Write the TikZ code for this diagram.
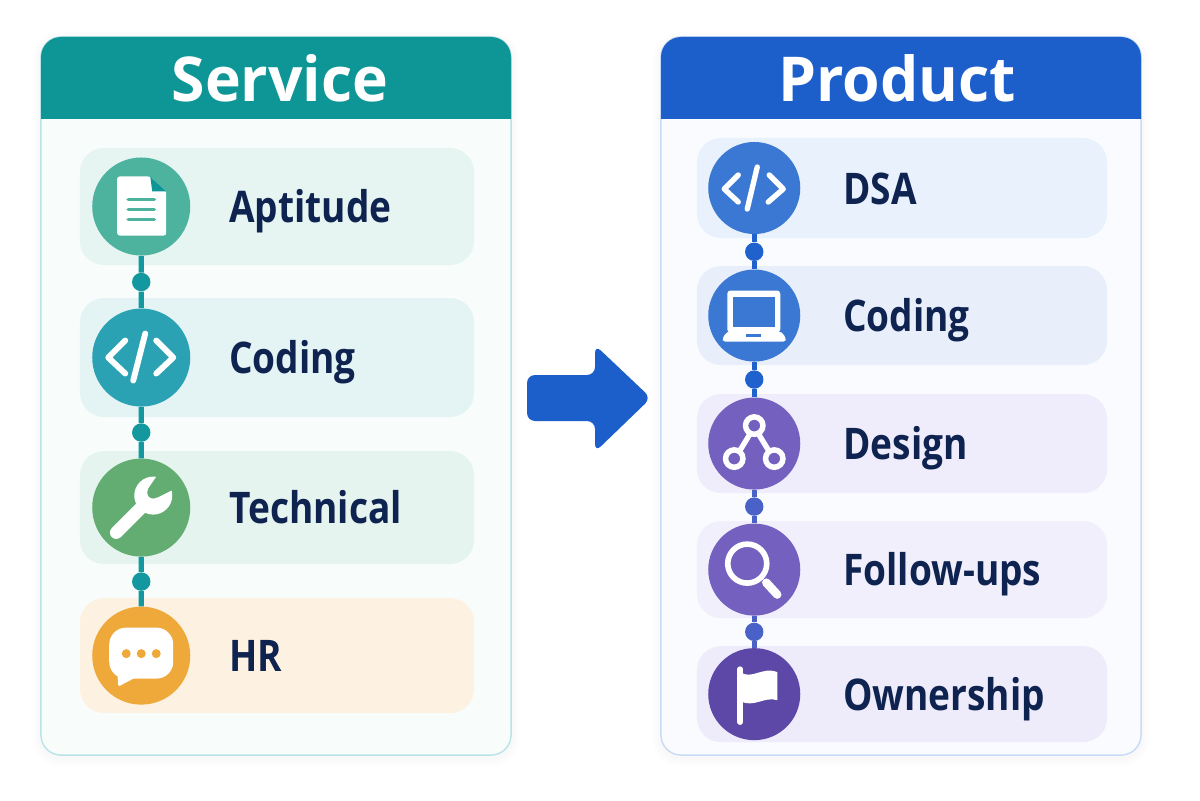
\documentclass[tikz,border=0pt]{standalone}
\usepackage{fontspec}
\setmainfont{Open Sans}
\newfontfamily\labelfont[FakeStretch=0.85]{Open Sans}
\newfontfamily\titlefont[FakeStretch=0.98]{Open Sans}
\usetikzlibrary{arrows.meta,positioning,calc}

\definecolor{inkNavy}{HTML}{0F2350}
\definecolor{svcTeal}{HTML}{0E9596}
\definecolor{svcLine}{HTML}{12989E}
\definecolor{svcEdge}{HTML}{B9E3E6}
\definecolor{svcBack}{HTML}{F8FDFC}
\definecolor{prodBlue}{HTML}{1C5FCB}
\definecolor{prodLine}{HTML}{1F62CE}
\definecolor{prodViolet}{HTML}{4A62C8}
\definecolor{prodEdge}{HTML}{C8DBF6}
\definecolor{prodBack}{HTML}{F9FBFF}
\definecolor{cGreen}{HTML}{4DB39E}
\definecolor{cCyan}{HTML}{2BA2B3}
\definecolor{cLeaf}{HTML}{64AD72}
\definecolor{cAmber}{HTML}{EFA93A}
\definecolor{cBlue}{HTML}{3B78D3}
\definecolor{cPurple}{HTML}{7460BF}
\definecolor{cDeep}{HTML}{5D47A7}
\definecolor{rowGreen}{HTML}{E6F5F2}
\definecolor{rowCyan}{HTML}{E4F4F4}
\definecolor{rowLeaf}{HTML}{E5F4EE}
\definecolor{rowAmber}{HTML}{FDF2E2}
\definecolor{rowBlue}{HTML}{E9F1FD}
\definecolor{rowBlueB}{HTML}{E8EFFB}
\definecolor{rowLilac}{HTML}{EFEDFB}
\definecolor{rowLilacB}{HTML}{F1EFFC}
\definecolor{rowLilacC}{HTML}{EEEBFB}

\begin{document}
\begin{tikzpicture}[
    x=0.025cm, y=-0.025cm,
    node distance=0.85cm,
    panel/.style={rectangle, draw, line width=1pt, rounded corners=0.5cm, minimum width=11.75cm, minimum height=17.95cm, inner sep=0pt},
    rowbox/.style={rectangle, rounded corners=0.6cm, inner sep=0pt, outer sep=0pt},
    svcrow/.style={rowbox, minimum width=9.85cm},
    prodrow/.style={rowbox, minimum width=10.25cm},
    svcicon/.style={circle, minimum size=2.45cm, inner sep=0pt},
    prodicon/.style={circle, minimum size=2.3cm, inner sep=0pt},
    title/.style={text=white, font=\titlefont\fontsize{44}{50}\selectfont\bfseries},
    label/.style={text=inkNavy, font=\labelfont\fontsize{31}{38}\selectfont\bfseries, inner sep=0pt, text height=0.8cm, text depth=0pt},
    dot/.style={circle, minimum size=0.46cm, inner sep=0pt},
    link/.style={line width=3.6pt},
    glyph/.style={draw=white, line width=4.2pt, line cap=round, line join=round}
]
\useasboundingbox (0,0) rectangle (1200,800);

% Panels
\foreach \w in {12,8,4} {
  \draw[black, opacity=0.008, line width=\w pt, rounded corners=0.5cm] (41,40) rectangle (511,758);
  \draw[black, opacity=0.008, line width=\w pt, rounded corners=0.5cm] (661,40) rectangle (1141,758);
}
\node[panel, draw=svcEdge, fill=svcBack] (svcPanel) at (276,396) {};
\node[panel, draw=prodEdge, fill=prodBack, minimum width=12cm] (prodPanel) at (901,396) {};
\fill[svcTeal] (41,119) [rounded corners=0.5cm] -- (41,37) -- (511,37) [sharp corners] -- (511,119) -- cycle;
\fill[prodBlue] (661,119) [rounded corners=0.5cm] -- (661,37) -- (1141,37) [sharp corners] -- (1141,119) -- cycle;
\node[title] (svcTitle) at (280,78) {Service};
\node[title] (prodTitle) at (897,78) {Product};

% Service rows
\node[svcrow, fill=rowGreen, minimum height=2.925cm] (svcRowA) at (277,206.5) {};
\node[svcrow, fill=rowCyan, minimum height=2.975cm, below=0.825cm of svcRowA] (svcRowB) {};
\node[svcrow, fill=rowLeaf, minimum height=2.825cm, below=of svcRowB] (svcRowC) {};
\node[svcrow, fill=rowAmber, minimum height=2.875cm, below=of svcRowC] (svcRowD) {};

\node[svcicon, fill=cGreen, right=0.3cm of svcRowA.west] (svcDoc) {};
\node[svcicon, fill=cCyan, right=0.3cm of svcRowB.west] (svcCode) {};
\node[svcicon, fill=cLeaf, right=0.3cm of svcRowC.west] (svcTool) {};
\node[svcicon, fill=cAmber, right=0.3cm of svcRowD.west] (svcChat) {};

\node[label, right=3.725cm of svcRowA.west] (svcAptitude) {Aptitude};
\node[label, right=3.725cm of svcRowB.west] (svcCoding) {Coding};
\node[label, right=3.725cm of svcRowC.west] (svcTechnical) {Technical};
\node[label, right=3.725cm of svcRowD.west] (svcHr) {HR};

% Product rows
\node[prodrow, fill=rowBlue, minimum height=2.5cm] (prodRowA) at (902,188) {};
\node[prodrow, fill=rowBlueB, minimum height=2.475cm, below=0.7cm of prodRowA] (prodRowB) {};
\node[prodrow, fill=rowLilac, minimum height=2.475cm, below=0.725cm of prodRowB] (prodRowC) {};
\node[prodrow, fill=rowLilacB, minimum height=2.425cm, below=0.7cm of prodRowC] (prodRowD) {};
\node[prodrow, fill=rowLilacC, minimum height=2.4cm, below=0.7cm of prodRowD] (prodRowE) {};

\node[prodicon, fill=cBlue, right=0.275cm of prodRowA.west] (prodCode) {};
\node[prodicon, fill=cBlue, right=0.275cm of prodRowB.west] (prodLaptop) {};
\node[prodicon, fill=cPurple, right=0.275cm of prodRowC.west] (prodGraph) {};
\node[prodicon, fill=cPurple, right=0.275cm of prodRowD.west] (prodLens) {};
\node[prodicon, fill=cDeep, right=0.275cm of prodRowE.west] (prodFlag) {};

\node[label, right=3.65cm of prodRowA.west] (prodDsa) {DSA};
\node[label, right=3.65cm of prodRowB.west] (prodCoding) {Coding};
\node[label, right=3.65cm of prodRowC.west] (prodDesign) {Design};
\node[label, right=3.65cm of prodRowD.west] (prodFollow) {Follow-ups};
\node[label, right=3.65cm of prodRowE.west] (prodOwner) {Ownership};

% Dots
\node[dot, fill=svcLine] (svcDotA) at ($(svcDoc.south)!0.5!(svcCode.north)$) {};
\node[dot, fill=svcLine] (svcDotB) at ($(svcCode.south)!0.5!(svcTool.north)$) {};
\node[dot, fill=svcLine] (svcDotC) at ($(svcTool.south)!0.5!(svcChat.north)$) {};
\node[dot, fill=prodLine] (prodDotA) at ($(prodCode.south)!0.5!(prodLaptop.north)$) {};
\node[dot, fill=prodLine] (prodDotB) at ($(prodLaptop.south)!0.5!(prodGraph.north)$) {};
\node[dot, fill=prodViolet] (prodDotC) at ($(prodGraph.south)!0.5!(prodLens.north)$) {};
\node[dot, fill=prodViolet] (prodDotD) at ($(prodLens.south)!0.5!(prodFlag.north)$) {};

% Links
\draw[link, svcLine] (svcDoc) -- (svcDotA);
\draw[link, svcLine] (svcDotA) -- (svcCode);
\draw[link, svcLine] (svcCode) -- (svcDotB);
\draw[link, svcLine] (svcDotB) -- (svcTool);
\draw[link, svcLine] (svcTool) -- (svcDotC);
\draw[link, svcLine] (svcDotC) -- (svcChat);
\draw[link, prodLine] (prodCode) -- (prodDotA);
\draw[link, prodLine] (prodDotA) -- (prodLaptop);
\draw[link, prodLine] (prodLaptop) -- (prodDotB);
\draw[link, prodLine] (prodDotB) -- (prodGraph);
\draw[link, prodViolet] (prodGraph) -- (prodDotC);
\draw[link, prodViolet] (prodDotC) -- (prodLens);
\draw[link, prodViolet] (prodLens) -- (prodDotD);
\draw[link, prodViolet] (prodDotD) -- (prodFlag);

% Big arrow
\fill[prodBlue, rounded corners=0.2cm] (527,375) -- (595,375) -- (595,345) -- (651,398) -- (595,452) -- (595,421) -- (527,421) -- cycle;

% Icons
\begin{scope}[shift={(svcDoc.center)}]
  \fill[white, rounded corners=0.06cm] (-24,-30) -- (9,-30) -- (25,-15) -- (25,29) -- (-24,29) -- cycle;
  \fill[svcTeal] (9,-30) -- (25,-15) -- (11,-15) -- cycle;
  \draw[cGreen, line width=2.6pt, line cap=round] (-13,-7) -- (13,-7) (-13,3) -- (13,3) (-13,13) -- (13,13);
\end{scope}
\begin{scope}[shift={(svcCode.center)}]
  \draw[glyph] (-16,-17) -- (-33,0) -- (-16,16) (15,-17) -- (32,0) -- (15,16) (4,-24) -- (-8,23);
\end{scope}
\begin{scope}[shift={(svcTool.center)}]
  \draw[white, line width=9pt, line cap=round] (-25,25) -- (6,-6);
  \fill[white] (12,-12) circle (19);
  \fill[cLeaf] (12,-15) circle (6) (7,-19) -- (20,-38) -- (40,-22) -- (16,-10) -- cycle;
\end{scope}
\begin{scope}[shift={(svcChat.center)}]
  \fill[white, rounded corners=0.42cm] (-32,-28) rectangle (32,23);
  \fill[white, rounded corners=0.04cm] (-24,15) -- (-23,31) -- (-6,22) -- cycle;
  \fill[cAmber] (-15,-2) circle (4.5) (0,-2) circle (4.5) (15,-2) circle (4.5);
\end{scope}
\begin{scope}[shift={(prodCode.center)}]
  \draw[glyph, line width=3.8pt] (-16,-13) -- (-30,1) -- (-16,14) (15,-13) -- (29,1) -- (14,14) (3,-21) -- (-7,21);
\end{scope}
\begin{scope}[shift={(prodLaptop.center)}]
  \fill[white, rounded corners=0.08cm] (-27,-25) rectangle (26,17);
  \fill[cBlue] (-21,-19) rectangle (21,11);
  \fill[white, rounded corners=0.1cm] (-28,16) -- (28,16) -- (33,26) -- (-33,26) -- cycle;
  \fill[cBlue] (-8,18.5) rectangle (7,21);
\end{scope}
\begin{scope}[shift={(prodGraph.center)}]
  \draw[white, line width=3.8pt] (-4,-10) -- (-15,8) (4,-10) -- (15,8);
  \draw[white, line width=3.9pt] (0,-18) circle (8.7) (-20,15) circle (8.7) (20,15) circle (8.7);
\end{scope}
\begin{scope}[shift={(prodLens.center)}]
  \draw[white, line width=4pt] (-7,-6) circle (19.5);
  \draw[white, line width=6pt, line cap=round] (12,13) -- (23,25);
\end{scope}
\begin{scope}[shift={(prodFlag.center)}]
  \draw[white, line width=4pt, line cap=round] (-14,-25) -- (-14,28);
  \fill[white] (-14,-22) .. controls (-2,-14) and (8,-28) .. (23,-22) -- (23,6) .. controls (10,2) and (0,14) .. (-14,7) -- cycle;
\end{scope}

\end{tikzpicture}
\end{document}
